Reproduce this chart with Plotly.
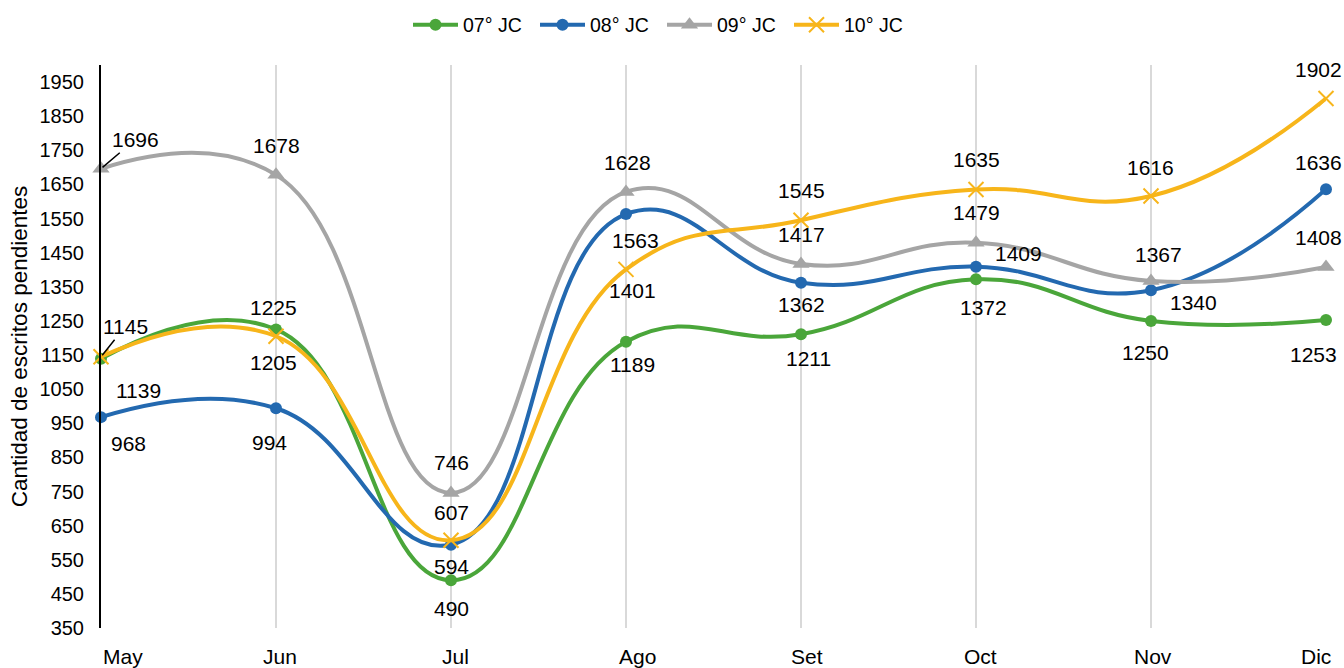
import plotly.graph_objects as go

months = ["May", "Jun", "Jul", "Ago", "Set", "Oct", "Nov", "Dic"]
jc07 = [1139, 1225, 490, 1189, 1211, 1372, 1250, 1253]
jc08 = [968, 994, 594, 1563, 1362, 1409, 1340, 1636]
jc09 = [1696, 1678, 746, 1628, 1417, 1479, 1367, 1408]
jc10 = [1145, 1205, 607, 1401, 1545, 1635, 1616, 1902]
y_ticks = list(range(350, 2000, 100))

# x-axis label horizontal shifts (px)
xlab_shift = [22, 4, 4, 11, 6, 4, 2, -10]

# label offsets in pixels (dx, dy; dy positive = down)
off07 = [(37, 32), (-3, -22), (0, 28), (6, 23), (7, 24), (7, 28), (-6, 32), (-13, 35)]
off08 = [(27, 26), (-7, 34), (0, 22), (9, 26), (0, 22), (42, -13), (42, 12), (-8, -27)]
off09 = [(34, -29), (0, -29), (0, -30), (1, -29), (0, -29), (0, -30), (7, -26), (-8, -30)]
off10 = [(24, -30), (-3, 26), (0, -28), (6, 21), (0, -30), (0, -30), (-1, -29), (-8, -29)]
leader09 = [True, False, False, False, False, False, False, False]
leader10 = [True, False, False, False, False, False, False, False]
leader07 = [False] * 8
leader08 = [False] * 8

series = [
    ("07° JC", jc07, "#4AA63A", dict(symbol="circle", size=12), off07, leader07),
    ("08° JC", jc08, "#2369B0", dict(symbol="circle", size=12), off08, leader08),
    ("09° JC", jc09, "#A5A5A5", dict(symbol="triangle-up", size=15), off09, leader09),
    ("10° JC", jc10, "#F7B51A", dict(symbol="x-thin-open", size=15), off10, leader10),
]

fig = go.Figure()
annotations = []
for name, vals, color, mk, offs, leaders in series:
    marker = dict(color=color, **mk)
    if mk["symbol"] == "x-thin-open":
        marker["line"] = dict(width=2, color=color)
    fig.add_trace(go.Scatter(
        x=months, y=vals, name=name, mode="lines+markers",
        line=dict(color=color, width=4, shape="spline", smoothing=1.3),
        marker=marker, cliponaxis=False,
    ))
    for m, v, (dx, dy), ld in zip(months, vals, offs, leaders):
        if ld:
            annotations.append(dict(
                x=m, y=v, text=str(v), showarrow=True, ax=dx, ay=dy,
                arrowhead=0, arrowwidth=1.5, arrowcolor="#000000", standoff=2,
                font=dict(size=21, color="#000000")))
        else:
            annotations.append(dict(
                x=m, y=v, text=str(v), showarrow=False, xshift=dx, yshift=-dy,
                xanchor="center", yanchor="middle",
                font=dict(size=21, color="#000000")))

# category labels along the bottom
for m, sx in zip(months, xlab_shift):
    annotations.append(dict(
        x=m, xref="x", y=0, yref="paper", text=m, showarrow=False,
        xanchor="center", yanchor="middle", xshift=sx, yshift=-28,
        font=dict(size=21, color="#000000")))

fig.update_layout(
    width=1344, height=668,
    margin=dict(l=101, r=18, t=65, b=40),
    paper_bgcolor="#FFFFFF", plot_bgcolor="#FFFFFF",
    font=dict(family="Liberation Sans, Arial, sans-serif", color="#000000", size=19),
    showlegend=True,
    legend=dict(orientation="h", xref="container", yref="container",
                x=408 / 1344, xanchor="left", y=1 - 25 / 668, yanchor="middle",
                font=dict(size=19.5), itemwidth=45, entrywidth=67, entrywidthmode="pixels",
                tracegroupgap=0, bgcolor="rgba(0,0,0,0)"),
    annotations=annotations,
)
fig.update_xaxes(
    type="category", range=[0, 7], showgrid=True, gridcolor="#D9D9D9", gridwidth=2,
    showline=False, zeroline=False, ticks="", showticklabels=False,
    automargin=False,
)
fig.update_yaxes(
    range=[350, 2000], tickvals=y_ticks, showgrid=False, zeroline=False,
    showline=True, linecolor="#000000", linewidth=2, ticks="",
    tickfont=dict(size=20), ticklabelstandoff=11,
    title=dict(text="Cantidad de escritos pendientes", font=dict(size=22.5), standoff=6),
    automargin=False,
)
fig.write_html("out.html", config={"displayModeBar": False},
               post_script="document.body.style.margin='0';")
